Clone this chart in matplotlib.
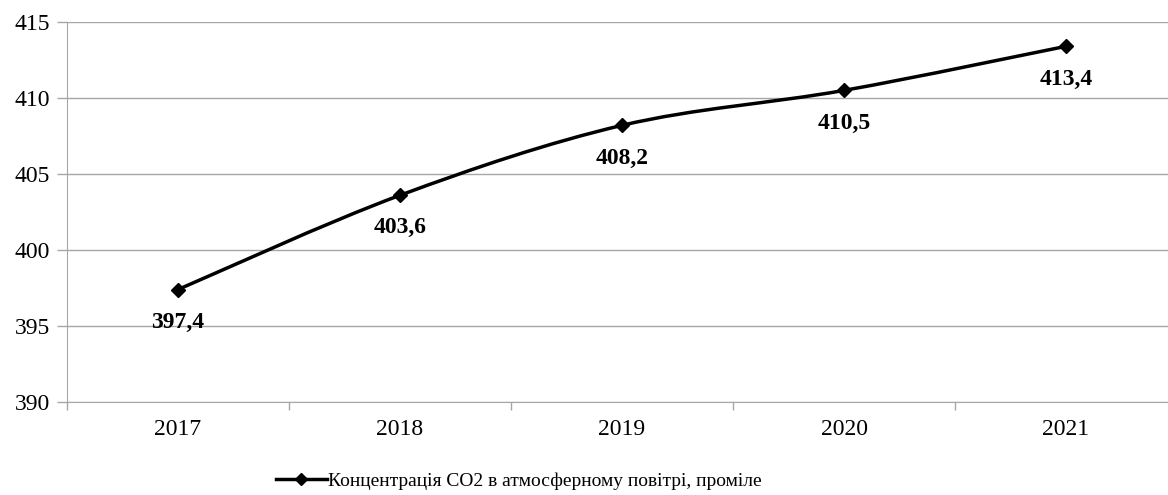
import numpy as np
import matplotlib.pyplot as plt
from matplotlib.path import Path
from matplotlib.patches import PathPatch
from matplotlib.lines import Line2D

years = ['2017', '2018', '2019', '2020', '2021']
co2 = [397.4, 403.6, 408.2, 410.5, 413.4]
labels = ['397,4', '403,6', '408,2', '410,5', '413,4']
series_name = 'Концентрація СО2 в атмосферному повітрі, проміле'

plt.rcParams['font.family'] = ['Liberation Serif', 'DejaVu Serif']

fig = plt.figure(figsize=(11.68, 4.95), dpi=100)
ax = fig.add_axes([67/1168, 93/495, 1110/1168, 380/495])

x = np.arange(len(years))
y = np.array(co2)

# smooth line like excel (catmull-rom -> bezier)
verts = [(x[0], y[0])]
codes = [Path.MOVETO]
n = len(x)
for i in range(n - 1):
    p0 = np.array([x[max(i-1, 0)], y[max(i-1, 0)]])
    p1 = np.array([x[i], y[i]])
    p2 = np.array([x[i+1], y[i+1]])
    p3 = np.array([x[min(i+2, n-1)], y[min(i+2, n-1)]])
    c1 = p1 + (p2 - p0) / 6
    c2 = p2 - (p3 - p1) / 6
    verts += [tuple(c1), tuple(c2), tuple(p2)]
    codes += [Path.CURVE4] * 3
ax.add_patch(PathPatch(Path(verts, codes), facecolor='none', edgecolor='black', lw=2.5, zorder=3))
ax.plot(x, y, linestyle='none', marker='D', color='black', markersize=7, zorder=4)

for xi, yi, lab in zip(x, y, labels):
    ax.annotate(lab, (xi, yi), xytext=(0, -23.5), textcoords='offset points', ha='center', va='center',
                fontsize=17, fontweight='bold')

ax.set_xlim(-0.5, 4.5)
ax.set_ylim(390, 415)
ax.set_yticks(np.arange(390, 416, 5))
ax.set_xticks(x)
ax.set_xticklabels(years)
ax.set_xticks(np.arange(-0.5, 5, 1), minor=True)
ax.tick_params(axis='x', which='major', length=0, pad=12, labelsize=17)
ax.tick_params(axis='x', which='minor', length=6, color='#a6a6a6', width=1)
ax.tick_params(axis='y', length=7, color='#a6a6a6', width=1, pad=5, labelsize=17)
ax.grid(axis='y', color='#a6a6a6', lw=1)
ax.set_axisbelow(True)
for s in ['top', 'right']:
    ax.spines[s].set_visible(False)
ax.spines['left'].set_color('#a6a6a6')
ax.spines['bottom'].set_color('#a6a6a6')

handle = Line2D([], [], color='black', lw=2.5, marker='D', markersize=6)
fig.legend([handle], [series_name], loc='center left', bbox_to_anchor=(276/1168, 1 - 481/495),
           frameon=False, fontsize=14, handlelength=2.6, handletextpad=0.1, borderpad=0, borderaxespad=0)

fig.savefig('out.png', dpi=100)
